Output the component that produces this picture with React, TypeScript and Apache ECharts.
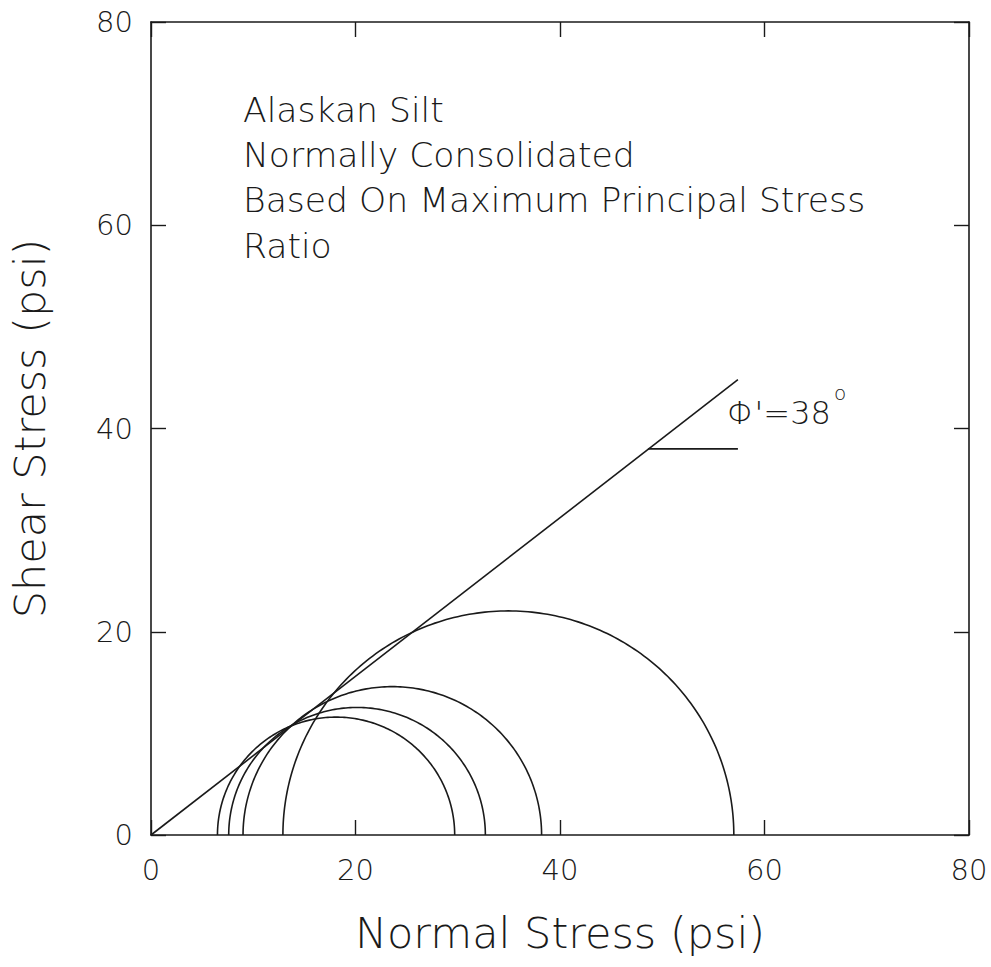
import React, { useEffect, useRef } from "react";
import * as echarts from "echarts";

// Mohr circles: minor and major principal effective stresses (psi)
const sigma3 = [6.5, 7.6, 9.0, 12.9];
const sigma1 = [29.7, 32.7, 38.2, 57.0];

// Failure envelope (phi' = 38 deg) end points
const envelopeX = [0, 57.4];
const envelopeY = [0, 44.8];

// Horizontal reference line for the friction angle
const angleMarkX = [48.6, 57.4];
const angleMarkY = [38.0, 38.0];

// Axis ticks
const xTicks = [0, 20, 40, 60, 80];
const yTicks = [0, 20, 40, 60, 80];

const noteLines = [
  "Alaskan Silt",
  "Normally Consolidated",
  "Based On Maximum Principal Stress",
  "Ratio",
];
const phiLabel = "Φ'=38";
const degreeLabel = "o";

const FONT = "'DejaVu Sans', sans-serif";
const W = 200;
const INK = "#1a1a1a";

export default function App() {
  const ref = useRef<HTMLDivElement>(null);

  useEffect(() => {
    if (!ref.current) return;
    const chart = echarts.init(ref.current, null, { renderer: "svg" });

    const circleData = sigma3.map((s3, i) => [s3, sigma1[i]]);
    const envelope = envelopeX.map((x, i) => [x, envelopeY[i]]);
    const angleMark = angleMarkX.map((x, i) => [x, angleMarkY[i]]);

    const axisCommon = {
      type: "value" as const,
      min: xTicks[0],
      max: xTicks[xTicks.length - 1],
      interval: 20,
      splitLine: { show: false },
      axisLine: { show: true, onZero: false, lineStyle: { color: INK, width: 1.6 } },
      axisTick: { show: true, inside: true, length: 15, lineStyle: { color: INK, width: 1.4 } },
    };

    const option: any = {
      animation: false,
      backgroundColor: "#ffffff",
      grid: { left: 151, right: 22, top: 22, bottom: 132 },
      xAxis: [
        {
          ...axisCommon,
          position: "bottom",
          axisLabel: { fontSize: 29, fontFamily: FONT, fontWeight: W, color: INK, margin: 20 },
          name: "Normal Stress (psi)",
          nameLocation: "middle",
          nameGap: 76,
          nameTextStyle: { fontSize: 43, fontFamily: FONT, fontWeight: W, color: INK },
        },
        {
          ...axisCommon,
          position: "top",
          axisLabel: { show: false },
        },
      ],
      yAxis: [
        {
          ...axisCommon,
          min: yTicks[0],
          max: yTicks[yTicks.length - 1],
          position: "left",
          axisLabel: { fontSize: 29, fontFamily: FONT, fontWeight: W, color: INK, margin: 18 },
          name: "Shear Stress (psi)",
          nameLocation: "middle",
          nameGap: 100,
          nameTextStyle: { fontSize: 43, fontFamily: FONT, fontWeight: W, color: INK },
        },
        {
          ...axisCommon,
          min: yTicks[0],
          max: yTicks[yTicks.length - 1],
          position: "right",
          axisLabel: { show: false },
        },
      ],
      series: [
        {
          type: "custom",
          xAxisIndex: 0,
          yAxisIndex: 0,
          data: circleData,
          renderItem: (params: any, api: any) => {
            const s3 = api.value(0);
            const s1 = api.value(1);
            const c = (s3 + s1) / 2;
            const r = (s1 - s3) / 2;
            const pts: number[][] = [];
            const n = 180;
            for (let k = 0; k <= n; k++) {
              const t = (Math.PI * k) / n;
              pts.push(api.coord([c - r * Math.cos(t), r * Math.sin(t)]));
            }
            return {
              type: "polyline",
              shape: { points: pts },
              style: { stroke: INK, lineWidth: 1.6, fill: "none" },
            };
          },
          z: 3,
        },
        {
          type: "line",
          data: envelope,
          showSymbol: false,
          symbol: "none",
          lineStyle: { color: INK, width: 1.6 },
          z: 4,
        },
        {
          type: "line",
          data: angleMark,
          showSymbol: false,
          symbol: "none",
          lineStyle: { color: INK, width: 1.6 },
          z: 4,
        },
      ],
      graphic: [
        {
          type: "text",
          left: 243,
          top: 87,
          style: {
            text: noteLines.join("\n"),
            font: `${W} 34.6px ${FONT}`,
            lineHeight: 45.3,
            fill: INK,
          },
        },
        {
          type: "text",
          left: 727,
          top: 397,
          style: { text: phiLabel, font: `${W} 32px ${FONT}`, fill: INK },
        },
        {
          type: "text",
          left: 834,
          top: 383,
          style: { text: degreeLabel, font: `${W} 20px ${FONT}`, fill: INK },
        },
      ],
    };

    chart.setOption(option);
    return () => chart.dispose();
  }, []);

  return <div ref={ref} style={{ width: 991, height: 967, position: "absolute", left: 0, top: 0 }} />;
}
